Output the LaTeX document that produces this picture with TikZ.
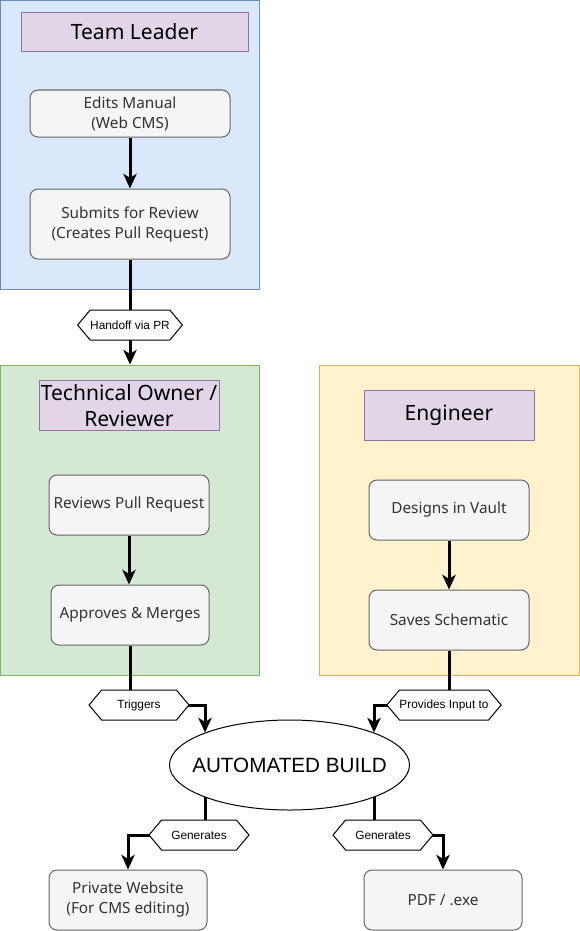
\documentclass[tikz,border=0pt]{standalone}
\usepackage{fontspec}
\setmainfont{Noto Sans}
\newfontfamily\arialf{Liberation Sans}
\usetikzlibrary{shapes.geometric,shapes.symbols,arrows.meta}
\definecolor{bluef}{HTML}{DAE8FC}\definecolor{blued}{HTML}{6C8EBF}
\definecolor{greenf}{HTML}{D5E8D4}\definecolor{greend}{HTML}{82B366}
\definecolor{yellf}{HTML}{FFF2CC}\definecolor{yelld}{HTML}{D6B656}
\definecolor{purpf}{HTML}{E1D5E7}\definecolor{purpd}{HTML}{9673A6}
\definecolor{greyf}{HTML}{F5F5F5}\definecolor{greyd}{HTML}{666666}
\definecolor{greyt}{HTML}{333333}
\pgfdeclarelayer{bg}\pgfdeclarelayer{edges}\pgfsetlayers{bg,edges,main}
\begin{document}
\begin{tikzpicture}[x=0.75pt,y=-0.75pt,
  sz/.style n args={2}{minimum width=#1*0.75pt, minimum height=#2*0.75pt},
  lane/.style={draw, line width=0.75pt, inner sep=0pt},
  titlebox/.style={draw=purpd, fill=purpf, line width=0.75pt, inner sep=0pt, align=center, font=\fontsize{15.8}{20}\selectfont},
  stepbox/.style={draw=greyd, fill=greyf, line width=0.75pt, rounded corners=6pt, inner sep=0pt, align=center, text=greyt, font=\fontsize{11.5}{15}\selectfont},
  hexlabel/.style={signal, signal to=west and east, signal pointer angle=100, draw, fill=white, line width=0.75pt, inner sep=0pt, font=\arialf\fontsize{8.9}{10}\selectfont},
  conn/.style={draw, line width=2.25pt, -{Stealth[length=11pt,width=10pt,inset=3pt]}}
]
\useasboundingbox (0,0) rectangle (580,931);
\begin{pgfonlayer}{bg}
\node[lane, fill=bluef, draw=blued, sz={259}{289}] (tlc) at (130,145) {};
\node[lane, fill=greenf, draw=greend, sz={259}{310}] (toc) at (130,520) {};
\node[lane, fill=yellf, draw=yelld, sz={260}{310}] (enc) at (449,520) {};
\end{pgfonlayer}
% titles
\node[titlebox, sz={227}{39}] (tlt) at (134.5,32) {Team Leader};
\node[titlebox, sz={180}{50}] (tot) at (129,405.5) {Technical Owner /\\Reviewer};
\node[titlebox, sz={170}{50}] (ent) at (449,415.5) {Engineer};
% steps
\node[stepbox, sz={200}{47}] (edits) at (130,113.5) {Edits Manual\\(Web CMS)};
\node[stepbox, sz={200}{70}] (submits) at (130,224) {Submits for Review\\(Creates Pull Request)};
\node[stepbox, sz={160}{60}] (reviews) at (129,505) {Reviews Pull Request};
\node[stepbox, sz={158}{60}] (approves) at (130,615) {Approves \& Merges};
\node[stepbox, sz={160}{60}] (designs) at (449,510) {Designs in Vault};
\node[stepbox, sz={160}{60}] (saves) at (449,620) {Saves Schematic};
\node[ellipse, draw, fill=white, line width=0.75pt, inner sep=0pt, sz={240}{90},
  label={[font=\arialf\fontsize{15.5}{18}\selectfont]center:AUTOMATED BUILD}] (build) at (289.5,765) {};
\node[stepbox, sz={158}{60}] (private) at (128,900) {Private Website\\(For CMS editing)};
\node[stepbox, sz={158}{60}] (pdf) at (443,900) {PDF / .exe};
% labels
\node[hexlabel, sz={100}{30}] (handoff) at (130,325) {Handoff via PR};
\node[hexlabel, sz={100}{30}] (trig) at (139,705) {Triggers};
\node[hexlabel, sz={110}{30}] (prov) at (444,705) {Provides Input to};
\node[hexlabel, sz={100}{30}] (genl) at (199,835) {Generates};
\node[hexlabel, sz={100}{30}] (genr) at (383,835) {Generates};
\begin{pgfonlayer}{edges}
\path[conn] (edits.south) -- (submits.north);
\path[conn] (submits.south) -- (toc.north);
\path[conn] (reviews.south) -- (reviews.south |- approves.north);
\path[conn] (designs.south) -- (saves.north);
\path[conn] (approves.south) |- (trig.center) -| (build.159);
\path[conn] (saves.south) |- (prov.center) -| (build.21);
\path[conn] (build.-159) |- (genl.center) -| (private.north);
\path[conn] (build.-21) |- (genr.center) -| (pdf.north);
\end{pgfonlayer}
\end{tikzpicture}
\end{document}
